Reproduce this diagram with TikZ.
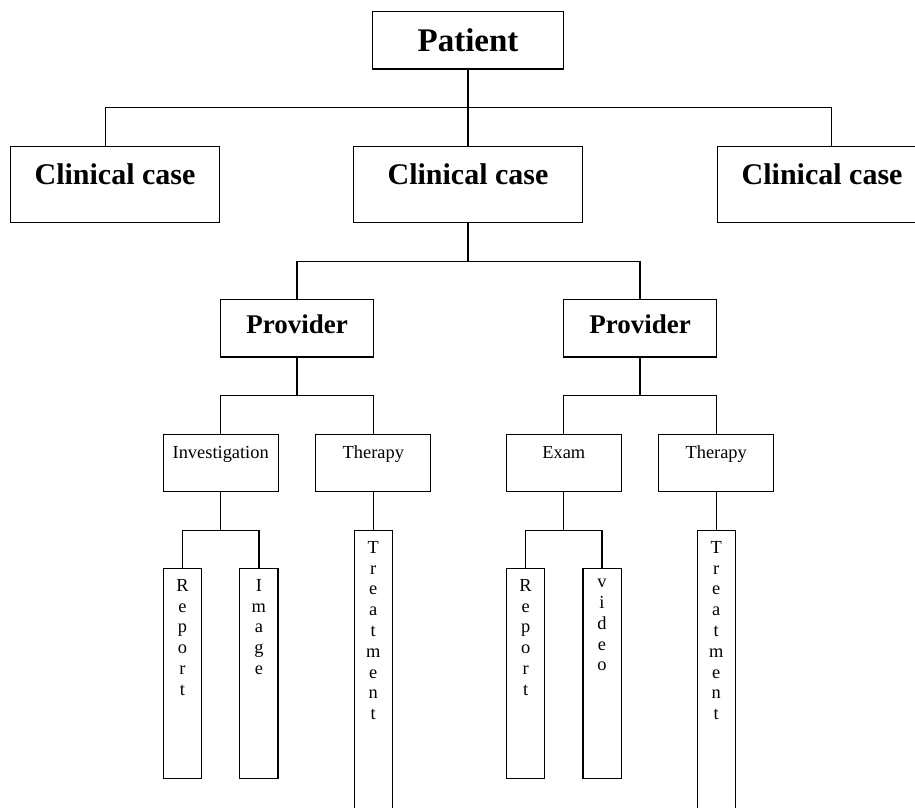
\documentclass[tikz,border=0pt]{standalone}
\usepackage{fontspec}
\setmainfont{Liberation Serif}
\usetikzlibrary{positioning}

\begin{document}
\begin{tikzpicture}[x=1pt,y=-1pt,line width=1.2pt,node distance=76pt,
		box/.style={draw,inner sep=0pt},
		patient node/.style={box,minimum width=191.7pt,text height=40pt,text depth=17.6pt,font=\fontsize{33pt}{33pt}\selectfont\bfseries},
		case node/.style={box,minimum width=209.7pt,text height=38.4pt,text depth=38pt,font=\fontsize{30pt}{30pt}\selectfont\bfseries},
		provider node/.style={box,minimum width=153.3pt,text height=33.3pt,text depth=24pt,font=\fontsize{27pt}{27pt}\selectfont\bfseries},
		item node/.style={box,minimum width=115pt,text height=24.3pt,text depth=33pt,font=\fontsize{18.4pt}{20.8pt}\selectfont},
		leaf node/.style={box,minimum width=38.2pt,minimum height=210pt},
		letters/.style={anchor=north,inner sep=0pt,yshift=-10.5pt,align=center,font=\fontsize{18.4pt}{20.8pt}\selectfont}]
		\useasboundingbox (0,0) rectangle (915,807);
		\node[patient node,anchor=north] (p) at (468,10.7) {Patient};
		\node[case node,minimum width=228.7pt] (c2) [below=of p] {Clinical case};
		\node[case node] (c1) [left=132.6pt of c2] {Clinical case};
		\node[case node] (c3) [right=133.7pt of c2] {Clinical case};
		\node[provider node] (pr1) [below=of c2,xshift=-171pt] {Provider};
		\node[provider node] (pr2) [below=of c2,xshift=172pt] {Provider};
		\node[item node] (inv) [below=of pr1,xshift=-76.3pt] {Investigation};
		\node[item node] (th1) [below=of pr1,xshift=76.3pt] {Therapy};
		\node[item node] (ex) [below=of pr2,xshift=-76.2pt] {Exam};
		\node[item node] (th2) [below=of pr2,xshift=76.2pt] {Therapy};
		\node[leaf node,label={[letters]north:{R\\e\\p\\o\\r\\t}}] (rep1) [below=of inv,xshift=-38.2pt] {};
		\node[leaf node,label={[letters]north:{I\\m\\a\\g\\e}}] (img) [below=of inv,xshift=38.2pt] {};
		\node[leaf node,minimum height=300pt,label={[letters]north:{T\\r\\e\\a\\t\\m\\e\\n\\t}}] (tr1) [below=38pt of th1] {};
		\node[leaf node,label={[letters]north:{R\\e\\p\\o\\r\\t}}] (rep2) [below=of ex,xshift=-38.2pt] {};
		\node[leaf node,label={[letters]north:{v\\i\\d\\e\\o}}] (vid) [below=of ex,xshift=38.2pt] {};
		\node[leaf node,minimum height=300pt,label={[letters]north:{T\\r\\e\\a\\t\\m\\e\\n\\t}}] (tr2) [below=38pt of th2] {};
		
		\draw (p.south) -- coordinate (m0) (c2.north);
		\draw ([xshift=-9.8pt]c1.north) |- (m0) -| ([xshift=9.7pt]c3.north);
		\foreach \a/\l/\r in {c2/pr1/pr2,pr1/inv/th1,pr2/ex/th2,inv/rep1/img,ex/rep2/vid}
		\draw (\a.south) -- ++(0,-38pt) coordinate (m) (\l.north) |- (m) -| (\r.north);
		\draw (th1.south) -- (tr1.north);
		\draw (th2.south) -- (tr2.north);
\end{tikzpicture}
\end{document}
